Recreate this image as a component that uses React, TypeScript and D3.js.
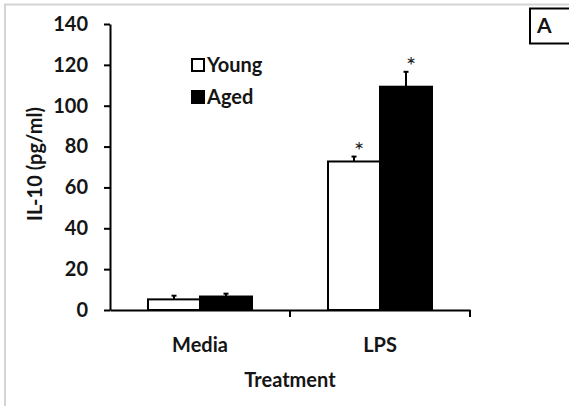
import { useEffect, useRef } from 'react';
import * as d3 from 'd3';

const treatments = ['Media', 'LPS'];
const groups = ['Young', 'Aged'];
const youngMeans = [5.2, 72.7];
const youngErrors = [1.8, 2.4];
const agedMeans = [6.6, 109.3];
const agedErrors = [1.4, 7.3];
const significant = [[false, false], [true, true]];
const yTicks = [0, 20, 40, 60, 80, 100, 120, 140];

const W = 569;
const H = 406;
const FONT = 'Lato, "Open Sans", sans-serif';
const FS = 20;

export default function App() {
  const svgRef = useRef<SVGSVGElement | null>(null);

  useEffect(() => {
    if (!svgRef.current) return;
    const svg = d3.select(svgRef.current);
    svg.selectAll('*').remove();

    svg.append('rect').attr('width', W).attr('height', H).attr('fill', '#fff');

    // frame (top + left edge of the figure panel)
    svg.append('path')
      .attr('d', `M5,${H} V4.5 H${W}`)
      .attr('fill', 'none')
      .attr('stroke', '#d4d4d4')
      .attr('stroke-width', 2);

    const x0 = d3.scaleBand().domain(treatments).range([110, 470]);
    const y = d3.scaleLinear().domain([0, 140]).range([310, 24]);
    const barW = 52;
    const x1 = d3.scaleBand().domain(groups).range([0, barW * 2]);

    const series = [
      { name: 'Young', means: youngMeans, errs: youngErrors, fill: '#fff' },
      { name: 'Aged', means: agedMeans, errs: agedErrors, fill: '#000' },
    ];

    const g = svg.append('g');

    // bars
    treatments.forEach((t, i) => {
      const cx = x0(t)! + x0.bandwidth() / 2;
      const left = cx - barW;
      series.forEach((s, j) => {
        const bx = left + x1(s.name)!;
        const v = s.means[i];
        const e = s.errs[i];
        const mid = bx + x1.bandwidth() / 2;
        // error bar (upper only)
        g.append('line')
          .attr('x1', mid).attr('x2', mid)
          .attr('y1', y(v)).attr('y2', y(v + e))
          .attr('stroke', '#000').attr('stroke-width', 2);
        g.append('line')
          .attr('x1', mid - 2.5).attr('x2', mid + 2.5)
          .attr('y1', y(v + e)).attr('y2', y(v + e))
          .attr('stroke', '#000').attr('stroke-width', 2);
        g.append('rect')
          .attr('x', bx).attr('y', y(v))
          .attr('width', x1.bandwidth()).attr('height', y(0) - y(v))
          .attr('fill', s.fill)
          .attr('stroke', '#000').attr('stroke-width', 2);
        if (significant[i][j]) {
          g.append('text')
            .attr('x', mid + 5).attr('y', y(v + e) + 2)
            .attr('text-anchor', 'middle')
            .attr('font-family', FONT)
            .attr('font-size', 24)
            .attr('fill', '#222')
            .text('*');
        }
      });
    });

    // y axis
    const yAxis = svg.append('g')
      .attr('transform', 'translate(110,0)')
      .call(d3.axisLeft(y).tickValues(yTicks).tickSize(6).tickPadding(16).tickSizeOuter(0));
    yAxis.select('.domain').attr('stroke-width', 2);
    yAxis.selectAll('.tick line').attr('stroke-width', 2);
    yAxis.selectAll('.tick text')
      .attr('font-family', FONT).attr('font-size', FS).attr('font-weight', 700).attr('fill', '#151515');

    // x axis
    const xAxis = svg.append('g')
      .attr('transform', 'translate(0,310)')
      .call(d3.axisBottom(x0).tickSize(0).tickSizeOuter(0));
    xAxis.select('.domain').attr('stroke-width', 2);
    xAxis.selectAll('.tick text')
      .attr('y', 42).attr('dy', 0)
      .attr('font-family', FONT).attr('font-size', FS).attr('font-weight', 700).attr('fill', '#151515');
    // category boundary ticks
    const bounds = [x0('LPS')!, 470];
    xAxis.selectAll('.bound')
      .data(bounds)
      .enter()
      .append('line')
      .attr('x1', d => d).attr('x2', d => d)
      .attr('y1', 0).attr('y2', 7)
      .attr('stroke', '#000').attr('stroke-width', 2);

    // axis titles
    svg.append('text')
      .attr('x', 290).attr('y', 387)
      .attr('text-anchor', 'middle')
      .attr('font-family', FONT).attr('font-size', FS).attr('font-weight', 700).attr('fill', '#151515')
      .text('Treatment');
    svg.append('text')
      .attr('transform', 'translate(42,164) rotate(-90)')
      .attr('text-anchor', 'middle')
      .attr('font-family', FONT).attr('font-size', FS).attr('font-weight', 700).attr('fill', '#151515')
      .text('IL-10 (pg/ml)');

    // legend
    const legend = svg.append('g').attr('transform', 'translate(191,58)');
    series.forEach((s, j) => {
      const row = legend.append('g').attr('transform', `translate(0,${j * 32})`);
      row.append('rect')
        .attr('x', 1).attr('y', 1).attr('width', 12).attr('height', 12)
        .attr('fill', s.fill).attr('stroke', '#000').attr('stroke-width', 2);
      row.append('text')
        .attr('x', 16).attr('y', 14)
        .attr('font-family', FONT).attr('font-size', FS).attr('font-weight', 700).attr('fill', '#151515')
        .text(s.name);
    });

    // panel label
    svg.append('rect')
      .attr('x', 530).attr('y', 8.5).attr('width', 40).attr('height', 35)
      .attr('fill', '#fff').attr('stroke', '#000').attr('stroke-width', 2);
    svg.append('text')
      .attr('x', 537).attr('y', 33)
      .attr('font-family', FONT).attr('font-size', 21).attr('font-weight', 700).attr('fill', '#151515')
      .text('A');
  }, []);

  return (
    <svg
      ref={svgRef}
      width={W}
      height={H}
      style={{ position: 'absolute', left: 0, top: 0, display: 'block' }}
    />
  );
}
